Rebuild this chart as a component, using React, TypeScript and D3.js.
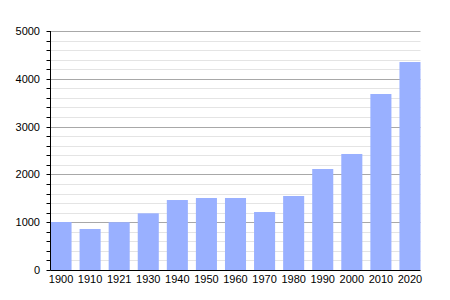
import React from "react";
import * as d3 from "d3";

const years = ["1900","1910","1921","1930","1940","1950","1960","1970","1980","1990","2000","2010","2020"];
const population = [1004, 858, 1000, 1186, 1464, 1506, 1506, 1213, 1548, 2113, 2427, 3682, 4351];
const yTicks = [0, 1000, 2000, 3000, 4000, 5000];

export default function App() {
  const W = 450, H = 300;
  const left = 50.5, right = 420.5, top = 31, bottom = 270;
  const x = d3.scaleBand<string>().domain(years).range([left, right]).paddingInner(0.276).paddingOuter(0).align(0);
  const y = d3.scaleLinear().domain([0, 5000]).range([bottom, top]);
  const minor = d3.range(0, 5001, 200);
  const font = "'Liberation Sans', Arial, sans-serif";
  return (
    <svg width={W} height={H} style={{ position: "absolute", left: 0, top: 0, background: "#fff" }}>
      {minor.filter(v => v % 1000 !== 0).map(v => (
        <line key={"m" + v} x1={left} x2={right} y1={Math.round(y(v)) + 0.5} y2={Math.round(y(v)) + 0.5} stroke="#e4e4e4" strokeWidth={1} />
      ))}
      {yTicks.filter(v => v > 0).map(v => (
        <line key={"g" + v} x1={left} x2={right} y1={Math.round(y(v)) + 0.5} y2={Math.round(y(v)) + 0.5} stroke="#a8a8a8" strokeWidth={1} />
      ))}
      {years.map((yr, i) => (
        <rect key={yr} x={x(yr)} y={y(population[i])} width={x.bandwidth()} height={bottom - y(population[i])} fill="#99b0ff" />
      ))}
      {minor.map(v => (
        <line key={"t" + v} x1={left - 4} x2={left} y1={Math.round(y(v)) + 0.5} y2={Math.round(y(v)) + 0.5} stroke="#000" strokeWidth={1} />
      ))}
      <line x1={left} x2={left} y1={top} y2={bottom + 0.5} stroke="#000" strokeWidth={1} />
      <line x1={left} x2={right} y1={bottom + 0.5} y2={bottom + 0.5} stroke="#000" strokeWidth={1.2} />
      {yTicks.map(v => (
        <text key={"l" + v} x={40} y={y(v) + 4} textAnchor="end" fontFamily={font} fontSize={11} fill="#000">{v}</text>
      ))}
      {years.map(yr => (
        <text key={"x" + yr} x={(x(yr) as number) + x.bandwidth() / 2} y={283} textAnchor="middle" fontFamily={font} fontSize={11} fill="#000">{yr}</text>
      ))}
    </svg>
  );
}
